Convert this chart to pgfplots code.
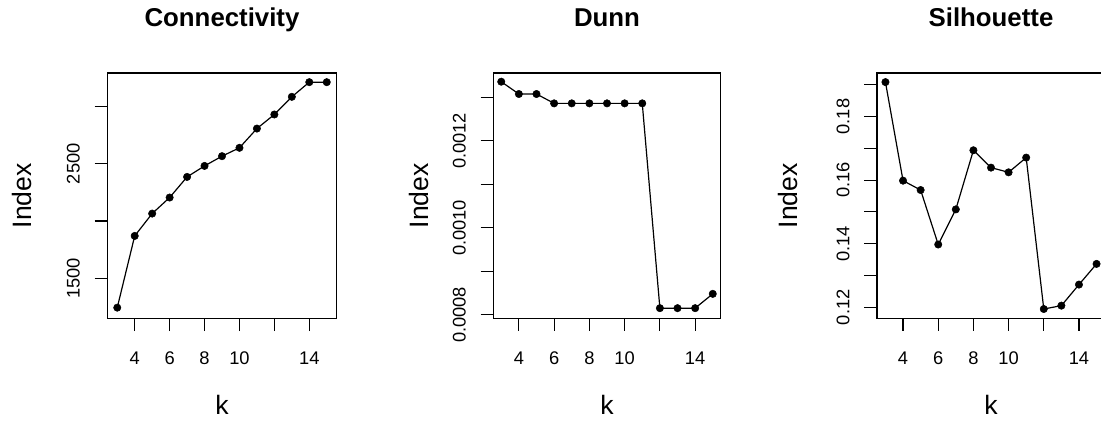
\documentclass[border=0pt]{standalone}
\usepackage{pgfplots}
\pgfplotsset{compat=1.18}
\usepackage{fontspec}
\setmainfont{Liberation Sans}
\pgfplotsset{
  rpanel/.style={
    scale only axis,
    anchor=north west,
    height=245.3pt,
    axis line style={line width=1.1pt},
    tick style={line width=1.1pt, black},
    tick align=outside,
    major tick length=12.7pt,
    xtick pos=bottom, ytick pos=left,
    xtick={4,6,8,10,12,14},
    xticklabels={4,6,8,10,,14},
    xticklabel style={anchor=north, inner sep=0pt, font=\fontsize{18.3}{22}\selectfont},
    xticklabel shift=20.6pt,
    yticklabel style={rotate=90, anchor=south, inner sep=0pt, font=\fontsize{18.3}{22}\selectfont},
    yticklabel shift=14.6pt,
    scaled y ticks=false,
    xlabel={k},
    ylabel={Index},
    label style={font=\fontsize{26.6}{30}\selectfont, inner sep=0pt},
    xlabel style={at={(axis description cs:0.5,-0.394)}, anchor=base},
    title style={at={(axis description cs:0.5,1.167)}, anchor=base, inner sep=0pt, font=\fontsize{25.8}{30}\selectfont\bfseries},
    clip=false,
  },
  rline/.style={black, line width=1.2pt, mark=*, mark size=3.7pt, mark options={solid, fill=black, line width=0.5pt}},
}
\begin{document}
\begin{tikzpicture}
\useasboundingbox (0pt,0pt) rectangle (1101pt,421pt);
\begin{axis}[rpanel, at={(107.3pt,348pt)}, width=229.4pt,
  xmin=2.43, xmax=15.57, ymin=1151, ymax=3292,
  ytick={1500,2000,2500,3000}, yticklabels={1500,,2500,},
  ylabel style={at={(axis description cs:-0.330,0.5)}, anchor=base},
  title={Connectivity}]
\addplot[rline] coordinates {(3,1244)(4,1870)(5,2065)(6,2205)(7,2385)(8,2481)(9,2566)(10,2639)(11,2807)(12,2930)(13,3084)(14,3212)(15,3212)};
\end{axis}
\begin{axis}[rpanel, at={(493.3pt,348pt)}, width=227.4pt,
  xmin=2.55, xmax=15.45, ymin=0.000792, ymax=0.001356,
  ytick={0.0008,0.0009,0.0010,0.0011,0.0012,0.0013}, yticklabels={0.0008,,0.0010,,0.0012,},
  ylabel style={at={(axis description cs:-0.286,0.5)}, anchor=base},
  title={Dunn}]
\addplot[rline] coordinates {(3,0.001336)(4,0.0013077)(5,0.0013077)(6,0.0012862)(7,0.0012862)(8,0.0012862)(9,0.0012862)(10,0.0012862)(11,0.0012862)(12,0.0008153)(13,0.0008153)(14,0.0008153)(15,0.0008482)};
\end{axis}
\begin{axis}[rpanel, at={(877pt,348pt)}, width=228pt,
  xmin=2.52, xmax=15.48, ymin=0.11655, ymax=0.1937,
  ytick={0.12,0.13,0.14,0.15,0.16,0.17,0.18,0.19}, yticklabels={0.12,,0.14,,0.16,,0.18,},
  ylabel style={at={(axis description cs:-0.350,0.5)}, anchor=base},
  title={Silhouette}]
\addplot[rline] coordinates {(3,0.19084)(4,0.15984)(5,0.15689)(6,0.13976)(7,0.1508)(8,0.1694)(9,0.16394)(10,0.16246)(11,0.16709)(12,0.11947)(13,0.12053)(14,0.12715)(15,0.13366)};
\end{axis}
\end{tikzpicture}
\end{document}
